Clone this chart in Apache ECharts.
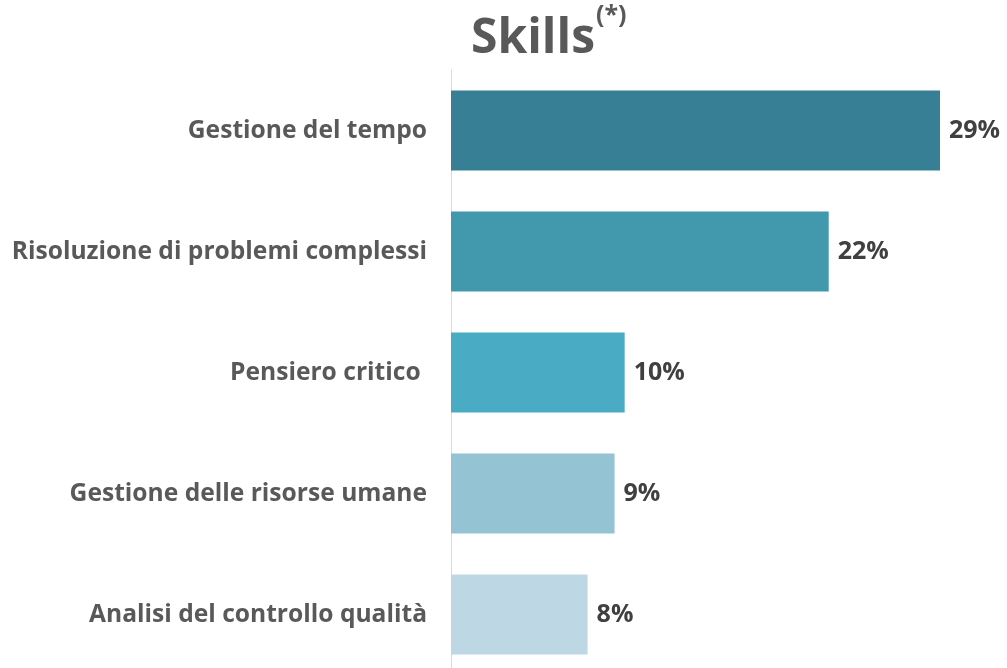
<!DOCTYPE html>
<html>
<head>
<meta charset="utf-8">
<script src="https://cdn.jsdelivr.net/npm/echarts@6/dist/echarts.min.js"></script>
<style>
  html, body { margin: 0; padding: 0; background: #fff; overflow: hidden; }
  /* un po' più alto della finestra: l'ultima fascia esce dal bordo come nell'originale */
  #chart { width: 1007px; height: 680px; }
</style>
</head>
<body>
<div id="chart"></div>
<script>
// categorie, dall'alto verso il basso
const categories = [
    'Gestione del tempo',
    'Risoluzione di problemi complessi',
    'Pensiero critico ',
    'Gestione delle risorse umane',
    'Analisi del controllo qualità'
];
const values = [29.0, 22.4, 10.3, 9.7, 8.1];
// etichette mostrate sulle barre
const valueLabels = ['29%', '22%', '10%', '9%', '8%'];
const barColors = ['#367f94', '#4299ae', '#4aabc5', '#94c3d4', '#bdd8e4'];

const font = '"Open Sans", Lato, sans-serif';

const chart = echarts.init(document.getElementById('chart'));

chart.setOption({
    animation: false,
    title: {
        text: '{main|Skills}{sup|(*)}',
        left: 466,
        top: -2,
        textStyle: {
            rich: {
                main: {
                    fontFamily: font,
                    fontWeight: 'bold',
                    fontSize: 48,
                    color: '#595959',
                    verticalAlign: 'bottom',
                    lineHeight: 60
                },
                sup: {
                    fontFamily: font,
                    fontWeight: 'bold',
                    fontSize: 25,
                    color: '#595959',
                    verticalAlign: 'top',
                    padding: [0, 0, 18, 1],
                    lineHeight: 60
                }
            }
        }
    },
    grid: {
        left: 451,
        top: 70,
        width: 489,
        height: 605
    },
    xAxis: {
        type: 'value',
        min: 0,
        max: 29,
        show: false
    },
    yAxis: {
        type: 'category',
        inverse: true,
        data: categories,
        axisTick: { show: false },
        axisLine: {
            show: true,
            lineStyle: { color: '#d9d9d9', width: 1 }
        },
        axisLabel: {
            margin: 24,
            fontFamily: font,
            fontWeight: 'bold',
            fontSize: 24.6,
            color: '#595959'
        }
    },
    series: [{
        type: 'bar',
        barWidth: 80,
        data: values.map((v, i) => ({
            value: v,
            itemStyle: { color: barColors[i] }
        })),
        label: {
            show: true,
            position: 'right',
            distance: 9,
            fontFamily: font,
            fontWeight: 'bold',
            fontSize: 25,
            color: '#404040',
            formatter: (p) => valueLabels[p.dataIndex]
        }
    }]
});
</script>
</body>
</html>
